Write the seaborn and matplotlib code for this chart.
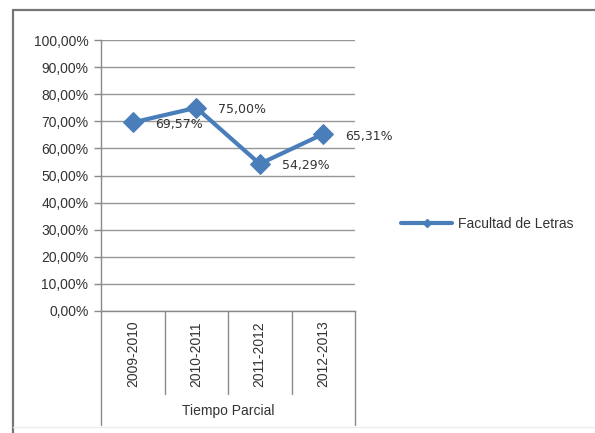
import matplotlib
matplotlib.use("Agg")
import matplotlib.pyplot as plt
import seaborn as sns
import pandas as pd
from matplotlib.lines import Line2D

periods = ["2009-2010", "2010-2011", "2011-2012", "2012-2013"]
values = [0.6957, 0.7500, 0.5429, 0.6531]
value_labels = ["69,57%", "75,00%", "54,29%", "65,31%"]
group_label = "Tiempo Parcial"
series_name = "Facultad de Letras"
yticks = [i / 10 for i in range(11)]
ytick_labels = [f"{int(t*100)},00%" for t in yticks]

sns.set_theme(style="white")
plt.rcParams["font.family"] = ["Liberation Sans", "DejaVu Sans"]

W, H = 595, 433
fig = plt.figure(figsize=(W / 100, H / 100), dpi=100)
fig.patch.set_facecolor("white")

x0, x1, y0, y1 = 101, 355, 311, 40
ax = fig.add_axes([x0 / W, 1 - y0 / H, (x1 - x0) / W, (y0 - y1) / H])

color = "#4a7ebb"
df = pd.DataFrame({"period": periods, "value": values, "serie": series_name})
sns.lineplot(data=df, x="period", y="value", hue="serie", palette=[color],
             marker="D", markersize=10.5, markeredgecolor=color, linewidth=3,
             ax=ax, legend=False)

ax.set_xlim(-0.5, len(periods) - 0.5)
ax.set_ylim(0, 1)
ax.set_yticks(yticks)
ax.set_yticklabels(ytick_labels, fontsize=10, color="#333333")
ax.tick_params(axis="y", length=5, width=1, color="#8a8a8a", pad=4, left=True)
ax.set_xticks([])
ax.set_xlabel("")
ax.set_ylabel("")
ax.grid(axis="y", color="#969696", linewidth=1)
ax.set_axisbelow(True)
for s in ["top", "right"]:
    ax.spines[s].set_visible(False)
for s in ["left", "bottom"]:
    ax.spines[s].set_color("#8a8a8a")
    ax.spines[s].set_linewidth(1)

# data labels
for i, (v, lab) in enumerate(zip(values, value_labels)):
    ax.annotate(lab, (i, v), xytext=(16, -1.5), textcoords="offset points",
                va="center", ha="left", fontsize=9, color="#333333",
                family="DejaVu Sans")

# category axis dividers and labels
tr = ax.get_xaxis_transform()
inner_bottom = -(394 - y0) / (y0 - y1)
outer_bottom = -(425 - y0) / (y0 - y1)
n = len(periods)
for k in range(n + 1):
    xb = k - 0.5
    yb = outer_bottom if k in (0, n) else inner_bottom
    ax.plot([xb, xb], [0, yb], transform=tr, color="#8a8a8a", linewidth=1,
            clip_on=False)
for i, p in enumerate(periods):
    ax.text(i, -(354 - y0) / (y0 - y1), p, transform=tr, rotation=90,
            ha="center", va="center", fontsize=10, color="#333333")
ax.text((n - 1) / 2, -(411 - y0) / (y0 - y1), group_label, transform=tr,
        ha="center", va="center", fontsize=10, color="#333333")

# legend
handle = Line2D([], [], color=color, linewidth=3, marker="D", markersize=4)
fig.legend([handle], [series_name], loc="center left",
           bbox_to_anchor=(394 / W, 1 - 224 / H), frameon=False, fontsize=10,
           handlelength=3.7, handletextpad=0.4, borderpad=0,
           labelcolor="#333333")

# chart frame
fig.add_artist(Line2D([13 / W, 13 / W], [0, 1 - 10 / H], color="#777777",
                      linewidth=1.6))
fig.add_artist(Line2D([13 / W, 1], [1 - 10 / H, 1 - 10 / H], color="#777777",
                      linewidth=1.6))
fig.add_artist(Line2D([13 / W, 1], [1 - 427 / H, 1 - 427 / H], color="#eeeeee",
                      linewidth=1))

fig.savefig("out.png", dpi=100, facecolor="white")
